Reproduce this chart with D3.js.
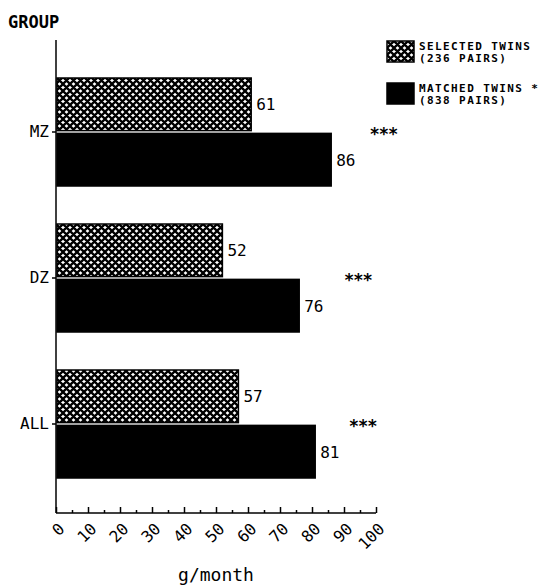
<!DOCTYPE html>
<html>
<head>
<meta charset="utf-8">
<script src="https://cdn.jsdelivr.net/npm/d3@7"></script>
<style>
  html, body { margin: 0; padding: 0; background: #fff; }
  svg { display: block; }
  text { font-family: "DejaVu Sans Mono", monospace; fill: #000; }
</style>
</head>
<body>
<svg id="chart" width="542" height="586"></svg>
<script>
// Monthly gain per group, selected vs matched twins
const groups = ["MZ", "DZ", "ALL"];
const series = ["selected", "matched"];
const selectedValues = [61, 52, 57];
const matchedValues = [86, 76, 81];
const significance = ["***", "***", "***"];
const starPos = [98, 90, 91.5];           // x position (g/month) of the significance marks
const legendLines = [
  ["SELECTED TWINS", "(236 PAIRS)"],
  ["MATCHED TWINS *", "(838 PAIRS)"]
];
const majorTicks = [0, 10, 20, 30, 40, 50, 60, 70, 80, 90, 100];
const minorTicks = [5, 15, 25, 35, 45, 55, 65, 75, 85, 95];

const svg = d3.select("#chart");

// cross-hatch fill: black diagonal lattice leaving white diamonds
const defs = svg.append("defs");
const pat = defs.append("pattern")
  .attr("id", "hatch")
  .attr("patternUnits", "userSpaceOnUse")
  .attr("width", 7).attr("height", 7);
pat.append("rect").attr("width", 7).attr("height", 7).attr("fill", "#fff");
pat.append("path")
  .attr("d", "M-1,1 L1,-1 M0,7 L7,0 M6,8 L8,6 M-1,6 L1,8 M0,0 L7,7 M6,-1 L8,1")
  .attr("stroke", "#000").attr("stroke-width", 2.3);

const x = d3.scaleLinear().domain([0, 100]).range([56, 376]);
const y = d3.scaleBand().domain(groups).range([59, 497]);
const ySub = d3.scaleBand().domain(series).range([-54, 54]).paddingInner(0.05);

const rows = groups.map((g, i) => ({
  group: g, selected: selectedValues[i], matched: matchedValues[i],
  sig: significance[i], star: starPos[i]
}));

const fills = { selected: "url(#hatch)", matched: "#000" };

// bars
rows.forEach(r => {
  const cy = y(r.group) + y.bandwidth() / 2;
  series.forEach(s => {
    svg.append("rect")
      .attr("x", x(0) + 1)
      .attr("y", cy + ySub(s))
      .attr("width", x(r[s]) - x(0) - 1)
      .attr("height", ySub.bandwidth())
      .attr("fill", fills[s])
      .attr("stroke", "#000").attr("stroke-width", 1.5);
    svg.append("text")
      .attr("x", x(r[s]) + 5)
      .attr("y", cy + ySub(s) + ySub.bandwidth() / 2 + 6)
      .attr("font-size", 16)
      .text(r[s]);
  });
  svg.append("text")
    .attr("x", x(r.star))
    .attr("y", cy + 8)
    .attr("font-size", 17).attr("font-weight", "bold")
    .attr("letter-spacing", -1)
    .text(r.sig);
});

// x axis: major and minor ticks pointing up into the plot
const xAxisY = 513;
svg.append("g")
  .attr("transform", `translate(0,${xAxisY})`)
  .call(d3.axisBottom(x).tickValues(minorTicks).tickSize(-3).tickFormat(""))
  .call(g => g.select(".domain").remove())
  .selectAll("line").attr("stroke-width", 1.5);
const xg = svg.append("g")
  .attr("transform", `translate(0,${xAxisY})`)
  .call(d3.axisBottom(x).tickValues(majorTicks).tickSize(-6).tickSizeOuter(0).tickFormat(d3.format("d")));
xg.select(".domain").attr("stroke-width", 1.5).attr("d", `M${x(0)},0H${x(100)}`);
xg.selectAll("line").attr("stroke-width", 1.5);
xg.selectAll("text")
  .attr("font-family", "DejaVu Sans Mono, monospace")
  .attr("font-size", 16)
  .attr("text-anchor", "end")
  .attr("dy", null).attr("y", 0)
  .attr("transform", "translate(9,17) rotate(-45)");

// y axis
const yg = svg.append("g")
  .attr("transform", `translate(${x(0)},0)`)
  .call(d3.axisLeft(y).tickSize(4).tickPadding(3).tickSizeOuter(0));
yg.select(".domain").attr("stroke-width", 1.5).attr("d", `M0,40V${xAxisY}`);
yg.selectAll("line").attr("stroke-width", 1.5);
yg.selectAll("text")
  .attr("font-family", "DejaVu Sans Mono, monospace")
  .attr("font-size", 16);

// titles
svg.append("text").attr("x", 8).attr("y", 28)
  .attr("font-size", 17).attr("font-weight", "bold").text("GROUP");
svg.append("text").attr("x", (x(0) + x(100)) / 2).attr("y", 581)
  .attr("text-anchor", "middle").attr("font-size", 18).text("g/month");

// legend
const legend = svg.append("g").attr("transform", "translate(387,41)");
series.forEach((s, i) => {
  const ly = i * 42;
  legend.append("rect")
    .attr("x", 0).attr("y", ly)
    .attr("width", 27).attr("height", 21)
    .attr("fill", fills[s]).attr("stroke", "#000").attr("stroke-width", 1.5);
  legendLines[i].forEach((t, j) => {
    legend.append("text")
      .attr("x", 32).attr("y", ly + 9 + j * 12)
      .attr("font-size", 11).attr("font-weight", "bold")
      .attr("letter-spacing", 1.4)
      .text(t);
  });
});
</script>
</body>
</html>
